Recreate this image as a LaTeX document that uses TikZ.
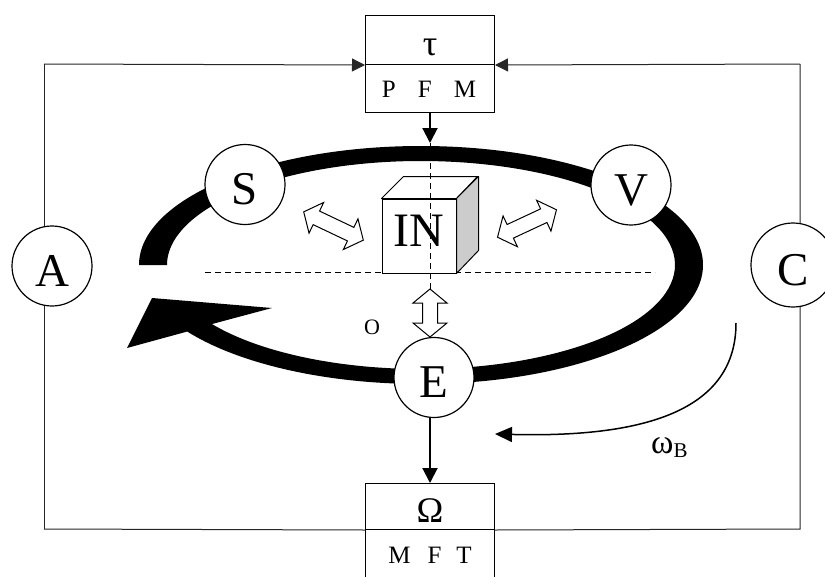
\documentclass[tikz,border=0pt]{standalone}
\usepackage{fontspec}
\setmainfont{Liberation Serif}
\usetikzlibrary{arrows.meta,calc}

% hollow double-headed arrow: centre, angle (deg), total length
\newcommand{\hollowarrow}[3]{%
  \begin{scope}[shift={#1}, rotate=#2]
    \draw[hollow] ({-#3/2},0) -- ({-#3/2+14},17) -- ({-#3/2+14},7.5) -- ({#3/2-14},7.5)
      -- ({#3/2-14},17) -- ({#3/2},0) -- ({#3/2-14},-17) -- ({#3/2-14},-7.5)
      -- ({-#3/2+14},-7.5) -- ({-#3/2+14},-17) -- cycle;
  \end{scope}}

\begin{document}
\begin{tikzpicture}[x=1pt,y=-1pt,
  frame/.style={line width=1pt, draw=black!85},
  station/.style={circle, draw, line width=1.2pt, fill=white, minimum size=80pt,
    inner sep=0pt, text height=40pt, text depth=0pt, font=\fontsize{47}{49}\selectfont},
  cell/.style={draw, line width=1pt, fill=white, minimum width=129pt, inner sep=0pt, anchor=north west},
  feed/.style={line width=2pt, -{Triangle[length=15pt,width=15pt]}},
  inlet/.style={frame, -{Triangle[length=13pt,width=13pt]}},
  guide/.style={dash pattern=on 6pt off 4pt, line width=1pt},
  hollow/.style={draw, line width=1pt, fill=white, line join=miter}
]
\useasboundingbox (0,0) rectangle (825,576);

% outer frame corners
\coordinate (ftl) at (44,64);
\coordinate (ftr) at (800,64);
\coordinate (fbl) at (44,529);
\coordinate (fbr) at (800,529);

% boxes
\node[cell, minimum height=49pt] (tauTop) at (365,15) {};
\node[cell, minimum height=48pt] (tauBot) at (365,64) {};
\node[cell, minimum height=46pt] (omTop) at (365,483) {};
\node[cell, minimum height=52pt] (omBot) at (365,529) {};

\node[anchor=base, font=\fontsize{36}{38}\selectfont] (tauSym) at (430,55) {τ};
\node[anchor=base, font=\fontsize{25}{27}\selectfont] (tauSub) at (429,97) {P\hspace{22pt}F\hspace{22pt}M};
\node[anchor=base, font=\fontsize{36}{38}\selectfont] (omSym) at (430,522.7) {Ω};
\node[anchor=base, font=\fontsize{25}{27}\selectfont] (omSub) at (430,563) {M\hspace{17pt}F\hspace{15pt}T};

% frame lines
\draw[frame] (fbl) -- (ftl);
\draw[inlet] (ftl) -- (tauTop.south west);
\draw[frame] (fbl) -- (omTop.south west);
\draw[frame] (omTop.south east) -- (fbr) -- (ftr);
\draw[inlet] (ftr) -- (tauTop.south east);

% the ring with its arrow head
\fill (139,265) arc[start angle=180, end angle=506, x radius=282, y radius=119]
  -- (127,348) -- (152,298) -- (272,308)
  -- ($(421,265)+(505.4:254 and 104)$)
  arc[start angle=505.4, end angle=180, x radius=254, y radius=104] -- cycle;

% horizontal guide
\coordinate (gl) at (205,272);
\coordinate (gr) at (655,272);
\draw[guide] (gl) -- (gr);

% cube
\node[draw, line width=1pt, fill=white, minimum width=74pt, minimum height=74pt, inner sep=0pt] (cube) at (419,236) {};
\draw[line width=1pt, fill=white, line join=round] (cube.north west) -- ++(22,-22) -- ++(74,0) -- (cube.north east) -- cycle;
\draw[line width=1pt, fill=black!20, line join=round] (cube.north east) -- ++(22,-22) -- ++(0,74) -- (cube.south east) -- cycle;
\node[font=\fontsize{48}{50}\selectfont, inner sep=0pt] (inText) at (419,231) {IN};

% vertical guide
\coordinate (ringTop) at (430,143);
\coordinate (gb) at (430,290);
\draw[guide] (ringTop) -- (gb);

% hollow exchange arrows
\hollowarrow{(333.5,226)}{-25.4}{66}
\hollowarrow{(527,223.5)}{25}{65}
\hollowarrow{(430,313)}{90}{48}

% stations
\node[station] (A) at (52,266) {A};
\node[station] (S) at (245,184.5) {S};
\node[station] (V) at (631,185) {V};
\node[station] (E) at (434,377.5) {E};
\node[station, minimum size=84pt] (C) at (793,265) {C};

% feeds
\draw[feed] (tauBot.south) -- (ringTop);
\draw[feed] (E.south -| omTop.north) -- (omTop.north);

% labels
\node[font=\fontsize{22}{24}\selectfont] (oLabel) at (372,327) {O};
\coordinate (wStart) at (736,323);
\coordinate (wEnd) at (495,434);
\draw[line width=1.5pt, -{Triangle[length=17pt,width=15pt]}] (wStart) .. controls (736,408) and (650,438) .. (wEnd);
\node[anchor=base west, inner sep=0pt, font=\fontsize{34}{36}\selectfont] (wLabel) at (651,453) {ω\raisebox{-4pt}{\fontsize{21}{23}\selectfont B}};
\end{tikzpicture}
\end{document}
